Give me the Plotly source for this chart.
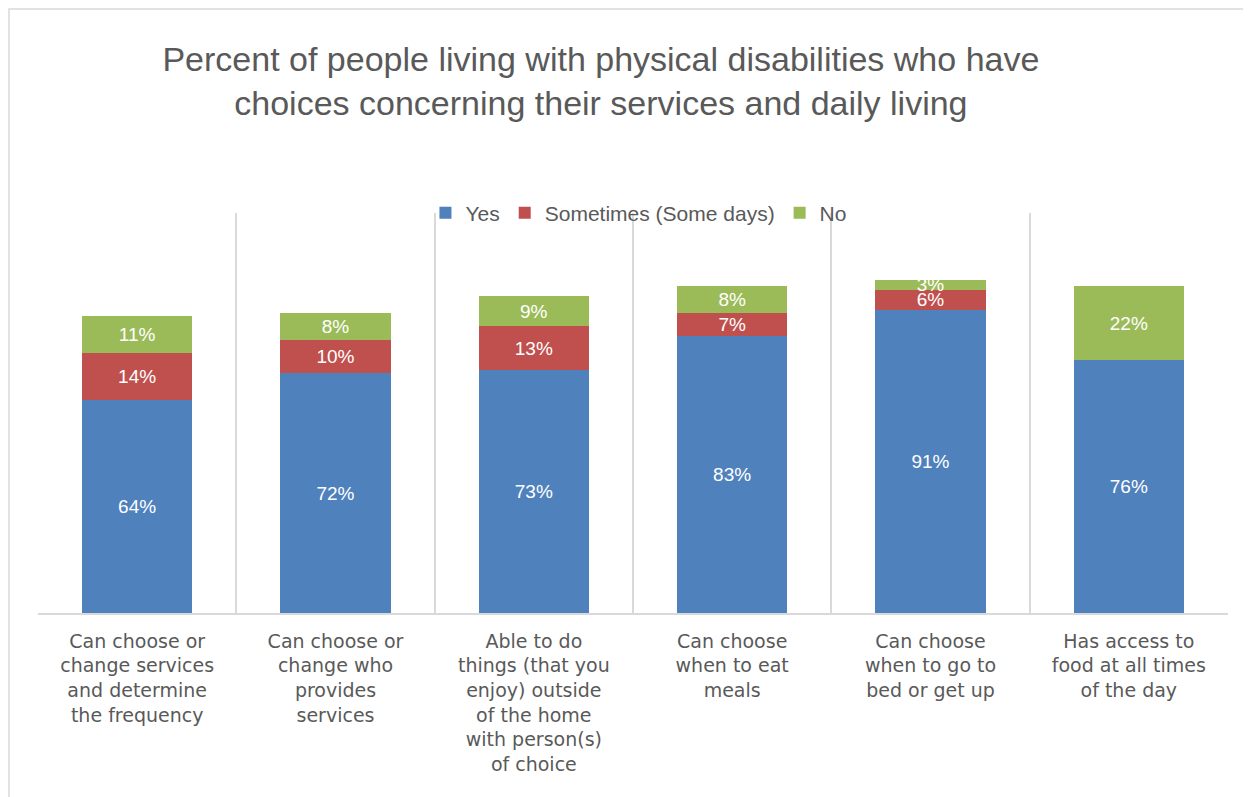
import plotly.graph_objects as go

categories = [
    "Can choose or<br>change services<br>and determine<br>the frequency",
    "Can choose or<br>change who<br>provides<br>services",
    "Able to do<br>things (that you<br>enjoy) outside<br>of the home<br>with person(s)<br>of choice",
    "Can choose<br>when to eat<br>meals",
    "Can choose<br>when to go to<br>bed or get up",
    "Has access to<br>food at all times<br>of the day",
]
yes_vals = [64, 72, 73, 83, 91, 76]
sometimes_vals = [14, 10, 13, 7, 6, 0]
no_vals = [11, 8, 9, 8, 3, 22]

series = [
    ("Yes", yes_vals, "#4F81BD"),
    ("Sometimes (Some days)", sometimes_vals, "#C0504D"),
    ("No", no_vals, "#9BBB59"),
]

fig = go.Figure()
for name, vals, color in series:
    fig.add_trace(go.Bar(
        name=name,
        x=categories,
        y=vals,
        marker=dict(color=color, line=dict(width=0)),
        text=[f"{v}%" if v else "" for v in vals],
        textposition="inside",
        insidetextanchor="middle",
        constraintext="none",
        textfont=dict(color="white", size=19, family="Liberation Sans Narrow, Liberation Sans, sans-serif"),
        textangle=0,
        hoverinfo="skip",
    ))

fig.update_layout(
    barmode="stack",
    bargap=0.445,
    width=1243,
    height=789,
    paper_bgcolor="white",
    plot_bgcolor="white",
    margin=dict(l=30, r=23, t=205, b=184, autoexpand=False),
    title=dict(
        text="Percent of people living with physical disabilities who have<br>choices concerning their services and daily living",
        x=0.477,
        xanchor="center",
        y=0.92,
        yanchor="middle",
        font=dict(size=34, color="#595959", family="Liberation Sans Narrow, Liberation Sans, sans-serif"),
    ),
    legend=dict(
        orientation="h",
        x=0.505,
        xanchor="center",
        y=1.0,
        yanchor="middle",
        bgcolor="rgba(0,0,0,0)",
        font=dict(size=21, color="#595959", family="Liberation Sans Narrow, Liberation Sans, sans-serif"),
        traceorder="normal",
        itemwidth=30,
    ),
    uniformtext=dict(minsize=17, mode="show"),
    shapes=[
        dict(type="rect", xref="paper", yref="paper",
             x0=-0.0244, x1=1.03, y0=-0.5, y1=1.51,
             line=dict(color="#D9D9D9", width=1.5), fillcolor="rgba(0,0,0,0)", layer="below"),
    ],
)

fig.update_xaxes(
    type="category",
    tickson="boundaries",
    showgrid=True,
    gridcolor="#D9D9D9",
    gridwidth=1.5,
    showline=True,
    linecolor="#D9D9D9",
    linewidth=1.5,
    ticks="",
    ticklabelstandoff=10,
    tickfont=dict(size=19, color="#595959", family="DejaVu Sans, sans-serif"),
    mirror=False,
)
fig.update_yaxes(
    range=[0, 120],
    showgrid=False,
    showticklabels=False,
    zeroline=False,
    showline=False,
    ticks="",
)

fig.write_html("out.html")
